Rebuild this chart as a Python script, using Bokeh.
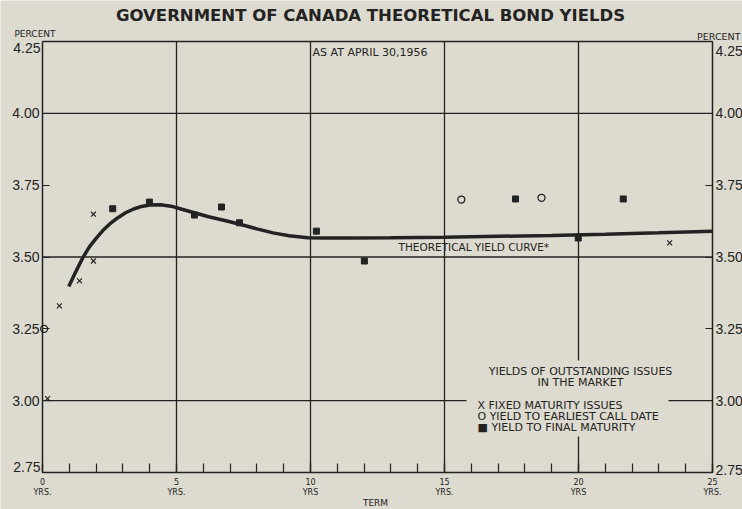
from bokeh.plotting import figure
from bokeh.models import FixedTicker, LinearAxis, Label, BoxAnnotation, Range1d
from bokeh.embed import file_html
from bokeh.resources import INLINE

# ---------------- data ----------------
curve_term = [0.98, 1.25, 1.5, 1.75, 2.0, 2.25, 2.5, 2.8, 3.1, 3.4, 3.7, 4.0, 4.4, 4.8,
              5.2, 5.7, 6.2, 6.8, 7.4, 8.0, 8.6, 9.2, 9.9, 10.5, 11.5, 13, 15, 17, 19,
              21, 23, 25]
curve_yield = [3.397, 3.45, 3.497, 3.535, 3.565, 3.592, 3.614, 3.636, 3.654, 3.667, 3.676,
               3.681, 3.682, 3.677, 3.666, 3.653, 3.640, 3.627, 3.613, 3.598, 3.584, 3.574,
               3.567, 3.566, 3.566, 3.567, 3.569, 3.572, 3.575, 3.579, 3.584, 3.590]

fixed_term = [0.19, 0.63, 1.38, 1.9, 1.9, 23.4]
fixed_yield = [3.007, 3.33, 3.417, 3.486, 3.649, 3.549]

call_term = [0.06, 15.63, 18.62]
call_yield = [3.25, 3.70, 3.706]

final_term = [2.62, 3.99, 5.67, 6.68, 7.35, 10.22, 12.01, 17.65, 19.99, 21.67]
final_yield = [3.668, 3.691, 3.646, 3.674, 3.619, 3.590, 3.486, 3.702, 3.566, 3.702]

term_min, term_max = 0, 25
yield_min, yield_max = 2.75, 4.25
y_ticks = [2.75, 3.00, 3.25, 3.50, 3.75, 4.00, 4.25]
y_tick_labels = ["2.75", "3.00", "3.25", "3.50", "3.75", "4.00", "4.25"]
x_ticks = [0, 5, 10, 15, 20, 25]
x_minor_ticks = list(range(0, 26))
x_tick_labels = ["0\nYRS.", "5\nYRS.", "10\nYRS", "15\nYRS.", "20\nYRS", "25\nYRS."]
grid_terms = [5, 10, 15, 20]
grid_yields = [3.0, 3.5, 4.0]

title_text = "GOVERNMENT OF CANADA THEORETICAL BOND YIELDS"
date_text = "AS AT APRIL 30,1956"
curve_text = "THEORETICAL YIELD CURVE*"
legend_head = ["YIELDS OF OUTSTANDING ISSUES", "IN THE MARKET"]
legend_items = ["X  FIXED MATURITY ISSUES", "O  YIELD TO EARLIEST CALL DATE",
                "\u25A0  YIELD TO FINAL MATURITY"]

# ---------------- layout: the frame fills the whole canvas ----------------
W, H = 742, 509
BOX_L, BOX_R, BOX_T, BOX_B = 42, 712, 41, 472          # chart box, canvas pixels
PX_X = (BOX_R - BOX_L) / (term_max - term_min)
PX_Y = (BOX_B - BOX_T) / (yield_max - yield_min)

def dx(px):
    return term_min + (px - BOX_L) / PX_X

def dy(py):
    return yield_max - (py - BOX_T) / PX_Y

BG = "#dddacf"
INK = "#232323"
SMALL = "DejaVu Sans"
NUM = "Liberation Sans"

p = figure(width=W, height=H, output_backend="svg", toolbar_location=None, title=None,
           x_range=Range1d(dx(0), dx(W)), y_range=Range1d(dy(H), dy(0)),
           min_border=0, min_border_left=0, min_border_right=0,
           min_border_top=0, min_border_bottom=0)
p.background_fill_color = BG
p.border_fill_color = BG
p.outline_line_color = None
p.xgrid.visible = False
p.ygrid.visible = False

def style_axis(a):
    a.axis_line_color = INK
    a.axis_line_width = 1.5
    a.major_tick_line_color = INK
    a.major_tick_line_width = 1.2
    a.minor_tick_line_color = INK
    a.minor_tick_line_width = 1.2
    a.major_tick_out = 0
    a.minor_tick_out = 0
    a.major_label_text_color = INK

# bottom axis (fixed at the bottom of the chart box)
xa = p.xaxis[0]
style_axis(xa)
xa.fixed_location = yield_min
xa.bounds = (term_min, term_max)
xa.ticker = FixedTicker(ticks=x_ticks, minor_ticks=x_minor_ticks)
xa.major_label_overrides = {t: l for t, l in zip(x_ticks, x_tick_labels)}
xa.major_tick_in = 9
xa.minor_tick_in = 9
xa.major_label_text_font = SMALL
xa.major_label_text_font_size = "8px"
xa.major_label_standoff = 5

# top border
ta = LinearAxis(fixed_location=yield_max, bounds=(term_min, term_max),
                ticker=FixedTicker(ticks=[]))
style_axis(ta)
p.add_layout(ta, "above")

# left and right axes; the two end labels are set a little inside the box (below)
inner = {t: l for t, l in zip(y_ticks, y_tick_labels)}
ends = {t: inner[t] for t in (yield_min, yield_max)}
for t in ends:
    inner[t] = ""
ya = p.yaxis[0]
ya.fixed_location = term_min
ra = LinearAxis(fixed_location=term_max)
p.add_layout(ra, "right")
for a in (ya, ra):
    style_axis(a)
    a.bounds = (yield_min, yield_max)
    a.ticker = FixedTicker(ticks=y_ticks)
    a.major_label_overrides = inner
    a.major_tick_in = 7
    a.minor_tick_in = 0
    a.major_label_text_font = NUM
    a.major_label_text_font_size = "14px"
    a.major_label_standoff = 3

# grid lines inside the chart box
p.segment(x0=grid_terms, y0=[yield_min] * len(grid_terms), x1=grid_terms,
          y1=[yield_max] * len(grid_terms), line_color=INK, line_width=1.3)
p.segment(x0=[term_min] * len(grid_yields), y0=grid_yields,
          x1=[term_max] * len(grid_yields), y1=grid_yields, line_color=INK, line_width=1.3)

# points (drawn before the curve so the curve covers those beneath it)
p.scatter(final_term, final_yield, marker="square", size=6, color=INK)
p.scatter(fixed_term, fixed_yield, marker="x", size=7, line_color=INK, line_width=1.2)
p.scatter(call_term, call_yield, marker="circle", size=7, fill_color=None,
          line_color=INK, line_width=1.3)
p.line(curve_term, curve_yield, line_color=INK, line_width=3.5)

# legend area blanking the grid
p.add_layout(BoxAnnotation(left=dx(466), right=dx(668), bottom=dy(436), top=dy(360),
                           fill_color=BG, fill_alpha=1.0, line_color=None))

def lab(px, py, t, size="11px", align="left", bold=False, font=SMALL):
    p.add_layout(Label(x=dx(px), y=dy(py), text=t, text_font=font, text_font_size=size,
                       text_align=align, text_baseline="middle", text_color=INK,
                       text_font_style="bold" if bold else "normal"))

# end labels of the value scale
lab(40, 47, ends[yield_max], size="14px", align="right", font=NUM)
lab(40, 466, ends[yield_min], size="14px", align="right", font=NUM)
lab(715, 50, ends[yield_max], size="14px", font=NUM)
lab(715, 469, ends[yield_min], size="14px", font=NUM)

lab(370, 15, title_text, size="16.5px", align="center", bold=True)
lab(34.5, 33, "PERCENT", size="9px", align="center")
lab(740, 36, "PERCENT", size="9.5px", align="right")
lab(312, 52, date_text, size="11px")
lab(398, 246, curve_text, size="10.5px")
lab(580, 371, legend_head[0], size="11px", align="center")
lab(580, 382, legend_head[1], size="11px", align="center")
for i, t in enumerate(legend_items):
    lab(477, 405 + 11 * i, t, size="11px")
lab(375, 502, "TERM", size="9px", align="center")

open("out.html", "w").write(file_html(p, INLINE))
